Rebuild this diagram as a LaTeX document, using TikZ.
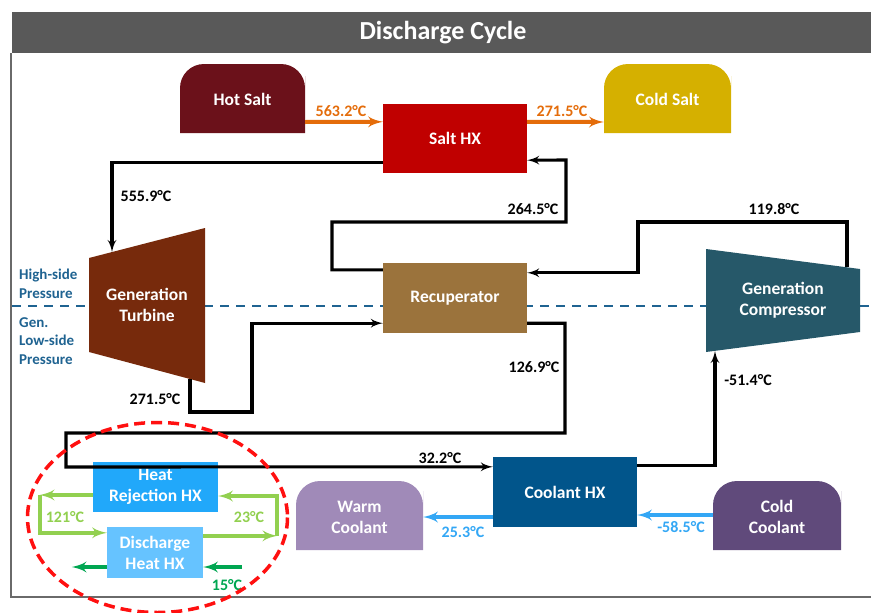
\documentclass[tikz,border=0pt]{standalone}
\usepackage{fontspec}
\setmainfont{Carlito}
\usetikzlibrary{arrows}
\definecolor{titlegray}{HTML}{595959}
\definecolor{framegray}{HTML}{6A6A6A}
\definecolor{hotsalt}{HTML}{6B111A}
\definecolor{coldsalt}{HTML}{D5B000}
\definecolor{saltred}{HTML}{C00000}
\definecolor{recupbrown}{HTML}{9B733C}
\definecolor{turbbrown}{HTML}{772A0C}
\definecolor{compteal}{HTML}{265869}
\definecolor{coolblue}{HTML}{01558B}
\definecolor{warmlilac}{HTML}{A08AB8}
\definecolor{coldpurple}{HTML}{604A7B}
\definecolor{rejblue}{HTML}{21A8FA}
\definecolor{disblue}{HTML}{66C3FF}
\definecolor{saltorange}{HTML}{E46C0A}
\definecolor{coolarrow}{HTML}{33A7F5}
\definecolor{loopgreen}{HTML}{92D050}
\definecolor{sinkgreen}{HTML}{00A651}
\definecolor{divblue}{HTML}{1F6391}
\definecolor{ringred}{HTML}{FF1010}
\tikzstyle{block} = [rectangle, text=white, align=center, inner sep=0pt, font=\fontsize{17.5}{21}\selectfont\bfseries]
\tikzstyle{pipe} = [draw=black, line width=3.1pt, -{latex'[scale=1.45]}]
\tikzstyle{temp} = [inner sep=0pt, font=\fontsize{16}{19}\selectfont\bfseries]
\tikzstyle{plabel} = [inner sep=0pt, align=left, text=divblue, font=\fontsize{15}{18.5}\selectfont\bfseries]
\tikzstyle{stream} = [line width=4pt, -{latex'[scale=1.45]}]

\begin{document}
\begin{tikzpicture}[x=1pt, y=-1pt]
	\useasboundingbox (0,0) rectangle (871,613);

	% frame and title
	\fill[titlegray] (12,12) rectangle (871,53);
	\node[font=\fontsize{26}{30}\selectfont\bfseries, text=white] (title) at (443,33) {Discharge Cycle};
	\draw[framegray, line width=2.5pt] (11,53) |- (871,597);

	% pressure divide
	\draw[divblue, line width=1.8pt, dash pattern=on 9pt off 7pt] (12,306) -- (871,306);
	\node[plabel, anchor=west] (high) at (19,284) {High-side\\Pressure};
	\node[plabel, anchor=west] (low) at (19,341) {Gen.\\Low-side\\Pressure};

	% salt tanks
	\fill[hotsalt] (180,133) -- (180,100) [rounded corners=24pt] -- (180,64) -- (305,64) -- (305,100) [sharp corners] -- (305,133) -- cycle;
	\fill[coldsalt] (604,133) -- (604,100) [rounded corners=24pt] -- (604,64) -- (731,64) -- (731,100) [sharp corners] -- (731,133) -- cycle;
	\node[block, minimum width=125pt, minimum height=69pt] (hot) at (242.5,99.5) {Hot Salt};
	\node[block, minimum width=127pt, minimum height=69pt] (cold) at (667.5,99.5) {Cold Salt};

	% coolant tanks
	\fill[warmlilac] (296,550) -- (296,515) [rounded corners=24pt] -- (296,481) -- (423,481) -- (423,515) [sharp corners] -- (423,550) -- cycle;
	\fill[coldpurple] (713,550) -- (713,515) [rounded corners=24pt] -- (713,481) -- (841,481) -- (841,515) [sharp corners] -- (841,550) -- cycle;
	\node[block, minimum width=127pt, minimum height=69pt] (warm) at (359.5,517) {Warm\\Coolant};
	\node[block, minimum width=128pt, minimum height=69pt] (coldcool) at (777,517) {Cold\\Coolant};

	% heat exchangers
	\node[block, fill=saltred, minimum width=144pt, minimum height=69pt] (salthx) at (455,138.5) {Salt HX};
	\node[block, fill=recupbrown, minimum width=144pt, minimum height=70pt] (recup) at (455,298) {Recuperator};
	\node[block, fill=coolblue, minimum width=144pt, minimum height=70pt] (coolhx) at (565,492) {Coolant HX};
	\node[block, fill=rejblue, minimum width=125pt, minimum height=50pt] (rejhx) at (155.5,487) {Heat\\Rejection HX};
	\node[block, fill=disblue, minimum width=96pt, minimum height=51pt] (dischx) at (155,552.5) {Discharge\\Heat HX};

	% turbomachines
	\fill[turbbrown] (89,258) -- (205,228) -- (205,383) -- (89,352) -- cycle;
	\node[block] (turbine) at (147,305) {Generation\\Turbine};
	\fill[compteal] (706,249) -- (860,269) -- (860,332) -- (706,352) -- cycle;
	\node[block] (comp) at (783,300) {Generation\\Compressor};
	\coordinate (turbin) at (112,252);
	\coordinate (turbout) at (190,379);
	\coordinate (compin) at (715,351);
	\coordinate (compout) at (847,267);

	% working fluid loop
	\draw[pipe] ([yshift=11pt]salthx.south west) -| (turbin);
	\draw[pipe] (turbout) |- (252,412) |- ([yshift=10pt]recup.south west);
	\draw[pipe] ([yshift=10pt]recup.south east) -| (565,433) -| (66,467) -- ([yshift=-10pt]coolhx.north west);
	\draw[pipe] ([yshift=-9pt]coolhx.north east) -| (compin);
	\draw[pipe] (compout) |- (638,222) |- ([yshift=-10pt]recup.north east);
	\draw[pipe] ([yshift=-7pt]recup.north west) -| (332,222) -| (566,160) -- ([yshift=13pt]salthx.south east);

	\node[temp] (t1) at (146,196) {555.9°C};
	\node[temp] (t2) at (155,399) {271.5°C};
	\node[temp] (t3) at (533,209) {264.5°C};
	\node[temp] (t4) at (534,367) {126.9°C};
	\node[temp] (t5) at (440,458) {32.2°C};
	\node[temp] (t6) at (748,380) {-51.4°C};
	\node[temp] (t7) at (774,209) {119.8°C};

	% salt side
	\draw[stream, saltorange] ([yshift=-22.5pt]hot.east) -- ([yshift=-18pt]salthx.north west);
	\draw[stream, saltorange] ([yshift=-18pt]salthx.north east) -- ([yshift=-22.5pt]cold.west);
	\node[temp, text=saltorange] (t8) at (341,111) {563.2°C};
	\node[temp, text=saltorange] (t9) at (562,111) {271.5°C};

	% coolant side
	\draw[stream, coolarrow] ([yshift=2pt]coldcool.west) -- ([yshift=2pt]coldcool.west -| coolhx.east);
	\draw[stream, coolarrow] (coolhx.west |- warm.east) -- (warm.east);
	\node[temp, text=coolarrow] (t10) at (681,527) {-58.5°C};
	\node[temp, text=coolarrow] (t11) at (463,532) {25.3°C};

	% heat rejection loop
	\draw[stream, loopgreen] ([yshift=-8pt]rejhx.west) -- ++(-53,0) coordinate (gl);
	\draw[stream, loopgreen] (gl) |- ([yshift=-6pt]dischx.north west);
	\draw[stream, loopgreen] ([yshift=-9pt]dischx.north east) -- ++(74,0) coordinate (gr);
	\draw[stream, loopgreen] (gr) |- ([yshift=-9pt]rejhx.east);
	\node[temp, text=loopgreen] (t12) at (65,517) {121°C};
	\node[temp, text=loopgreen] (t13) at (249,517) {23°C};

	\coordinate (sinkin) at (242,567);
	\draw[stream, sinkgreen] (sinkin) -- (sinkin -| dischx.east);
	\draw[stream, sinkgreen] (sinkin -| dischx.west) -- ++(-35,0);
	\node[temp, text=sinkgreen] (t14) at (227,585) {15°C};

	% highlight
	\draw[ringred, line width=3.5pt, dash pattern=on 11pt off 6pt] (157.5,517.5) ellipse [x radius=130, y radius=95];
\end{tikzpicture}
\end{document}
